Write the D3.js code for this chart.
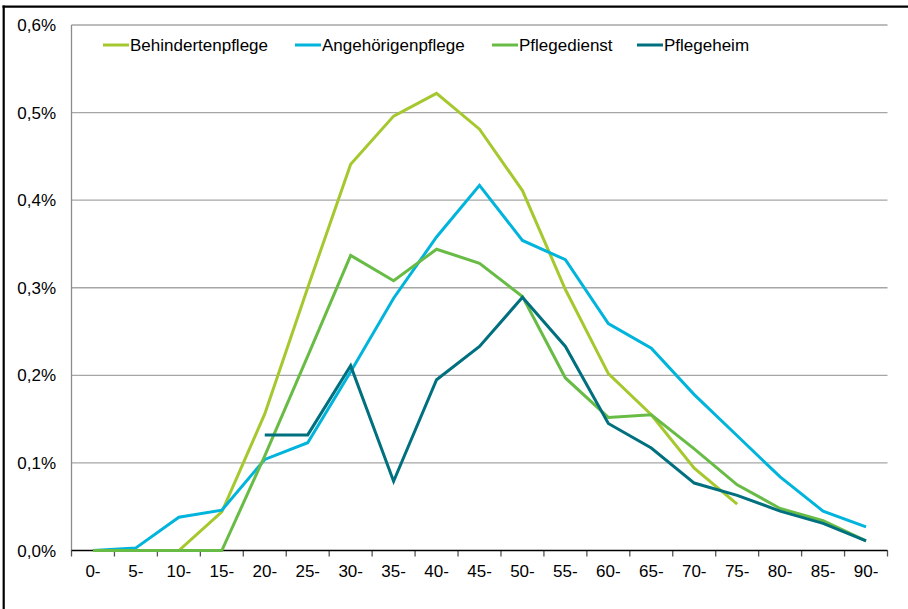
<!DOCTYPE html>
<html><head><meta charset="utf-8">
<script src="https://cdnjs.cloudflare.com/ajax/libs/d3/7.8.5/d3.min.js"></script>
<style>body{margin:0;background:#fff}svg{display:block;font-family:"Liberation Sans",Arial,sans-serif}</style>
</head><body><svg id="c" width="908" height="609"></svg>
<script>
const categories = ["0-","5-","10-","15-","20-","25-","30-","35-","40-","45-","50-","55-","60-","65-","70-","75-","80-","85-","90-"];
const seriesNames = ["Behindertenpflege","Angehörigenpflege","Pflegedienst","Pflegeheim"];
const seriesColors = ["#a5c82f","#00b4dc","#68bc45","#00707f"];
const behindertenpflege = [0,0,0,0.044,0.156,0.300,0.441,0.496,0.522,0.481,0.411,0.298,0.202,0.155,0.094,0.053,null,null,null];
const angehoerigenpflege = [0,0.003,0.038,0.046,0.104,0.123,0.204,0.288,0.358,0.417,0.354,0.332,0.259,0.231,0.178,0.131,0.084,0.045,0.027];
const pflegedienst = [0,0,0,0,0.108,0.222,0.337,0.308,0.344,0.328,0.290,0.197,0.152,0.155,0.116,0.075,0.048,0.034,0.011];
const pflegeheim = [null,null,null,null,0.132,0.132,0.211,0.079,0.195,0.233,0.289,0.233,0.145,0.117,0.077,0.063,0.045,0.031,0.011];
const yTicks = [0,0.1,0.2,0.3,0.4,0.5,0.6];
const yTickLabels = ["0,0%","0,1%","0,2%","0,3%","0,4%","0,5%","0,6%"];

const allSeries = [behindertenpflege, angehoerigenpflege, pflegedienst, pflegeheim];
const svg = d3.select("#c");
const L = 71.5, R = 887.5, T = 25, B = 550.5;
const FS = 17;
const x = d3.scaleBand().domain(categories).range([L, R]).padding(0);
const y = d3.scaleLinear().domain([0, 0.6]).range([B, T]);

// outer frame
svg.append("line").attr("x1",2.5).attr("x2",908).attr("y1",6.7).attr("y2",6.7).attr("stroke","#000").attr("stroke-width",2.2);
svg.append("line").attr("x1",3.7).attr("x2",3.7).attr("y1",5.6).attr("y2",609).attr("stroke","#000").attr("stroke-width",2.2);

// gridlines
svg.append("g").selectAll("line").data(yTicks.filter(d=>d>0)).join("line")
  .attr("x1",L).attr("x2",R).attr("y1",d=>y(d)).attr("y2",d=>y(d))
  .attr("stroke","#a6a6a6").attr("stroke-width",1.3);
// left axis line
svg.append("line").attr("x1",L).attr("x2",L).attr("y1",T).attr("y2",B).attr("stroke","#8c8c8c").attr("stroke-width",1.3);

// y labels
svg.append("g").selectAll("text").data(yTicks).join("text")
  .attr("x",56).attr("y",d=>y(d)).attr("dy","0.36em").attr("text-anchor","end")
  .attr("font-size",FS).attr("fill","#000").text((d,i)=>yTickLabels[i]);

// x axis
const xAxis = d3.axisBottom(x).tickSize(0).tickPadding(14);
const gx = svg.append("g").attr("transform",`translate(0,${B})`).call(xAxis);
gx.select(".domain").remove();
gx.selectAll("text").attr("font-size",FS).attr("fill","#000").attr("font-family","Liberation Sans, Arial, sans-serif");
const bounds = categories.map(c=>x(c)).concat([R]);
svg.append("g").selectAll("line").data(bounds).join("line")
  .attr("x1",d=>d).attr("x2",d=>d).attr("y1",B).attr("y2",B+6)
  .attr("stroke","#555").attr("stroke-width",1.3);
svg.append("line").attr("x1",L).attr("x2",R).attr("y1",B).attr("y2",B).attr("stroke","#000").attr("stroke-width",1.5);

// lines
const line = d3.line().defined(d=>d.v!==null).x(d=>x(d.c)+x.bandwidth()/2).y(d=>y(d.v));
allSeries.forEach((s,i)=>{
  const pts = categories.map((c,j)=>({c, v:s[j]}));
  svg.append("path").datum(pts).attr("d",line).attr("fill","none")
    .attr("stroke",seriesColors[i]).attr("stroke-width",3).attr("stroke-linejoin","miter");
});

// legend
const legX = [103, 295, 492, 637];
const lg = svg.append("g");
seriesNames.forEach((n,i)=>{
  lg.append("line").attr("x1",legX[i]).attr("x2",legX[i]+26).attr("y1",45).attr("y2",45)
    .attr("stroke",seriesColors[i]).attr("stroke-width",3);
  lg.append("text").attr("x",legX[i]+27).attr("y",45).attr("dy","0.36em")
    .attr("font-size",FS).attr("fill","#000").text(n);
});
</script></body></html>
